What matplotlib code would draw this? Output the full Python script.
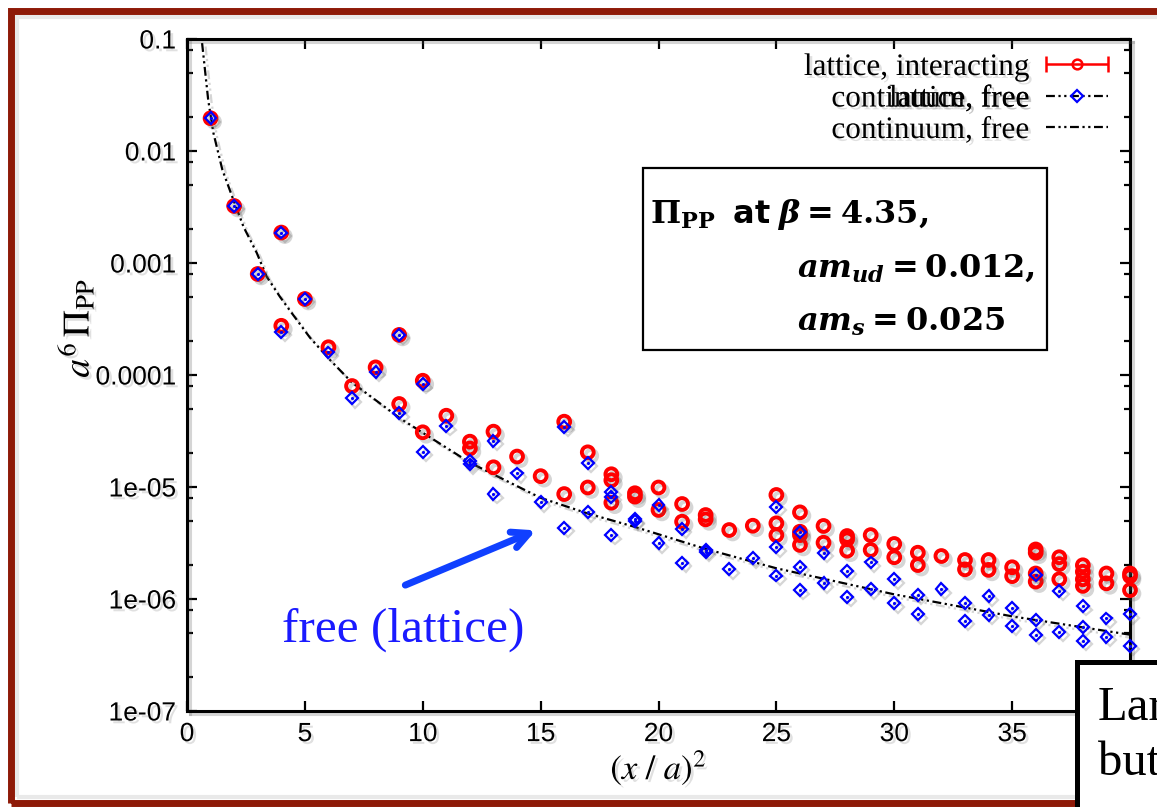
import numpy as np
import matplotlib
matplotlib.use("Agg")
import matplotlib.pyplot as plt
from matplotlib import patheffects as pe
from matplotlib.lines import Line2D
from matplotlib.patches import Rectangle
from matplotlib.legend_handler import HandlerErrorbar, HandlerTuple
from matplotlib.ticker import LogLocator, FuncFormatter, NullFormatter

plt.rcParams['font.family'] = 'Liberation Sans'
plt.rcParams['mathtext.fontset'] = 'custom'
plt.rcParams['mathtext.rm'] = 'DejaVu Serif:bold'
plt.rcParams['mathtext.it'] = 'DejaVu Serif:italic:bold'
plt.rcParams['mathtext.bf'] = 'DejaVu Serif:bold'
plt.rcParams['mathtext.sf'] = 'DejaVu Sans:bold'

# --- data: index i -> (x/a)^2 = i+1
interacting = [
    [1.96e-2], [3.23e-3], [7.98e-4], [1.87e-3, 2.75e-4], [4.77e-4],
    [1.77e-4], [7.97e-5], [1.17e-4], [2.28e-4, 5.51e-5], [8.89e-5, 3.08e-5],
    [4.33e-5], [2.54e-5, 2.21e-5], [3.12e-5, 1.50e-5], [1.87e-5], [1.25e-5],
    [3.83e-5, 8.65e-6], [2.04e-5, 9.9e-6], [1.30e-5, 1.15e-5, 7.24e-6], [8.8e-6, 8.2e-6], [9.9e-6, 6.24e-6],
    [7.05e-6, 4.9e-6], [5.62e-6, 5.14e-6], [4.13e-6], [4.51e-6], [8.49e-6, 4.74e-6, 3.72e-6],
    [5.94e-6, 3.99e-6, 3.72e-6, 3.04e-6], [4.49e-6, 3.18e-6], [3.65e-6, 3.41e-6, 2.70e-6], [3.72e-6, 2.74e-6], [3.1e-6, 2.36e-6],
    [2.59e-6, 2.01e-6], [2.42e-6], [2.23e-6, 1.84e-6], [2.23e-6, 1.82e-6], [1.92e-6, 1.60e-6],
    [2.77e-6, 2.59e-6, 1.69e-6, 1.43e-6], [2.36e-6, 2.05e-6, 1.5e-6], [2.0e-6, 1.75e-6, 1.5e-6, 1.31e-6], [1.69e-6, 1.38e-6], [1.69e-6, 1.6e-6, 1.2e-6],
]
free_lattice = [
    [1.96e-2], [3.23e-3], [7.98e-4], [1.87e-3, 2.44e-4], [4.77e-4],
    [1.59e-4], [6.2e-5], [1.07e-4], [2.28e-4, 4.55e-5], [8.3e-5, 2.07e-5],
    [3.5e-5], [1.70e-5, 1.59e-5], [2.58e-5, 8.65e-6], [1.32e-5], [7.3e-6],
    [3.45e-5, 4.33e-6], [1.65e-5, 5.94e-6], [9.08e-6, 8.19e-6, 3.72e-6], [5.14e-6, 5.0e-6], [6.9e-6, 3.14e-6],
    [4.22e-6, 2.11e-6], [2.74e-6, 2.64e-6], [1.84e-6], [2.31e-6], [6.67e-6, 2.9e-6, 1.62e-6],
    [3.99e-6, 1.94e-6, 1.2e-6], [2.59e-6, 1.38e-6], [1.78e-6, 1.04e-6], [2.12e-6, 1.22e-6], [1.5e-6, 9.15e-7],
    [1.09e-6, 7.3e-7], [1.22e-6], [9.27e-7, 6.4e-7], [1.06e-6, 7.2e-7], [8.26e-7, 5.78e-7],
    [1.64e-6, 6.5e-7, 4.77e-7], [1.18e-6, 5.1e-7], [8.65e-7, 5.66e-7, 4.25e-7], [6.7e-7, 4.6e-7], [7.3e-7, 3.83e-7],
]
cont_x = [0.64, 0.9, 1.12, 1.5, 1.97, 2.4, 2.96, 3.38, 3.95, 4.37, 5.22, 6.07, 6.99, 9.04,
          12, 15, 17, 19, 22, 25, 30, 35, 40]
cont_y = [9.2e-2, 2.85e-2, 1.45e-2, 6.8e-3, 3.65e-3, 2.1e-3, 1.23e-3, 7.55e-4, 4.97e-4, 3.75e-4, 2.15e-4,
          1.36e-4, 8.6e-5, 4.1e-5, 1.65e-5, 8.0e-6, 5.8e-6, 4.4e-6, 2.8e-6, 1.88e-6, 1.1e-6, 7.0e-7, 4.8e-7]

xtick_vals = [0, 5, 10, 15, 20, 25, 30, 35, 40]
xtick_labels = ['0', '5', '10', '15', '20', '25', '30', '35', '']
ytick_vals = [1e-7, 1e-6, 1e-5, 1e-4, 1e-3, 1e-2, 1e-1]

def flatten(groups):
    xs, ys = [], []
    for i, g in enumerate(groups):
        xs += [i + 1] * len(g)
        ys += g
    return np.array(xs), np.array(ys)

xi, yi = flatten(interacting)
xf, yf = flatten(free_lattice)

W, H = 1157, 807
RED = '#ff0000'
BLUE = '#0000ff'
DASHDOT = (0, (4, 1.6, 1, 1.6, 1, 1.6))
LEGFONT = dict(family='Liberation Serif', size=22.5)

line_sh = [pe.SimpleLineShadow(offset=(2.5, -2.5), shadow_color='0.35', alpha=0.25), pe.Normal()]
text_sh = [pe.SimplePatchShadow(offset=(2, -2), shadow_rgbFace='0.4', alpha=0.2), pe.Normal()]

fig = plt.figure(figsize=(W / 100, H / 100), dpi=100)

# slide frame
fig.add_artist(Rectangle((17 / W, 1 - 797 / H), 1.2, (797 - 17) / H, transform=fig.transFigure,
                         fill=False, ec='0.88', lw=3, alpha=0.7))
fig.add_artist(Rectangle((11 / W, 1 - 803 / H), 1.2, (803 - 11) / H, transform=fig.transFigure,
                         fill=False, ec='#8e1a08', lw=5))

ax = fig.add_axes([187 / W, 1 - 711 / H, (1130 - 187) / W, (711 - 39) / H])
ax.set_yscale('log')
ax.set_xlim(0, 40)
ax.set_ylim(1e-7, 0.1)

ax.plot(cont_x, cont_y, color='black', lw=1.6, ls=DASHDOT, path_effects=line_sh, zorder=2)
ax.plot(xi, yi, ls='none', marker='o', ms=8.5, mfc='none', mec=RED, mew=2.8,
        clip_on=False, path_effects=line_sh, zorder=3)
ax.plot(xf, yf, ls='none', marker='D', ms=6, mfc='none', mec=BLUE, mew=1.6,
        clip_on=False, path_effects=line_sh, zorder=4)
ax.plot(xf, yf, ls='none', marker='.', ms=2.5, color=BLUE, clip_on=False, zorder=4)

# axes styling
for s in ax.spines.values():
    s.set_linewidth(2.2)
    s.set_path_effects(line_sh)
ax.set_xticks(xtick_vals, xtick_labels)
ax.set_yticks(ytick_vals)
ax.yaxis.set_minor_locator(LogLocator(base=10, subs=(2, 5, 8), numticks=10))
ax.yaxis.set_minor_formatter(NullFormatter())
ax.yaxis.set_major_formatter(FuncFormatter(lambda v, p: '%g' % v))
ax.tick_params(which='both', direction='in', top=True, right=True, width=1.6)
ax.tick_params(which='major', length=7, labelsize=19, pad=8)
ax.tick_params(which='minor', length=4)
for lbl in ax.get_xticklabels() + ax.get_yticklabels():
    lbl.set_path_effects(text_sh)

ax.set_xlabel(r'$(x\ /\ a)^2$', fontsize=25, math_fontfamily='stix', labelpad=2,
              path_effects=text_sh)
fig.text(76 / W, 1 - 328 / H, r'$a^6\,\Pi_{\mathrm{PP}}$', fontsize=27, math_fontfamily='stix',
         rotation=90, ha='center', va='center', path_effects=text_sh)

# legend
h_int = ax.errorbar([np.nan], [np.nan], xerr=[1.0], fmt='o', color=RED, ms=7, mfc='none',
                    mew=1.8, capsize=6, elinewidth=1.8, capthick=1.8)
h_line = Line2D([], [], color='black', lw=1.6, ls=DASHDOT)
h_dia = Line2D([], [], ls='none', marker='D', ms=6, mfc='none', mec=BLUE, mew=1.6)
leg = ax.legend([h_int, (h_line, h_dia), h_line],
                ['lattice, interacting', 'continuum, free', 'continuum, free'],
                handler_map={type(h_int): HandlerErrorbar(xerr_size=1.0),
                             tuple: HandlerTuple(ndivide=1)},
                loc='upper right', bbox_to_anchor=((1108 - 187) / 943, (711 - 53) / 672),
                borderaxespad=0, frameon=False, markerfirst=False, prop=LEGFONT,
                handlelength=2.0, handletextpad=0.5, labelspacing=0.08, borderpad=0)
for t in leg.get_texts():
    t.set_path_effects(text_sh)

# the second legend row carries a second label printed over the first one
fig.canvas.draw()
bb = leg.get_texts()[1].get_window_extent()
fig.text(bb.x1 / W, bb.y0 / H, 'lattice, free', ha='right', va='bottom',
         fontfamily=LEGFONT['family'], fontsize=LEGFONT['size'], path_effects=text_sh)

# parameter box
fig.add_artist(Rectangle((643 / W, 1 - 350 / H), 404 / W, 182 / H, transform=fig.transFigure,
                         fc='white', ec='black', lw=1.6))
fig.text(650 / W, 1 - 214 / H, r'$\Pi_{\mathrm{PP}}$  $\mathsf{at}$ $\beta=4.35,$', fontsize=23,
         ha='left', va='center')
fig.text(797 / W, 1 - 268 / H, r'$am_{ud}=0.012,$', fontsize=23, ha='left', va='center')
fig.text(797 / W, 1 - 322 / H, r'$am_s=0.025$', fontsize=23, ha='left', va='center')

# free (lattice) annotation
ax.annotate('', xy=(14.8, 4.1e-6), xytext=(9.26, 1.33e-6),
            arrowprops=dict(arrowstyle='->', color='#1040ff', lw=5, mutation_scale=30,
                            shrinkA=0, shrinkB=0))
fig.text(403 / W, 1 - 630 / H, 'free (lattice)', fontsize=35.5, family='Liberation Serif',
         color='#1a1aff', ha='center', va='center')

# cut-off text box, bottom right
fig.add_artist(Rectangle((1077 / W, -0.1), 0.2, (807 - 662) / H + 0.1, transform=fig.transFigure,
                         fc='white', ec='black', lw=3.6, zorder=10))
for s, yb in [('Lar', 720), ('but', 775)]:
    fig.text(1098 / W, 1 - yb / H, s, fontsize=35, family='Liberation Serif',
             ha='left', va='baseline', zorder=11)

fig.savefig('out.png', dpi=100)
